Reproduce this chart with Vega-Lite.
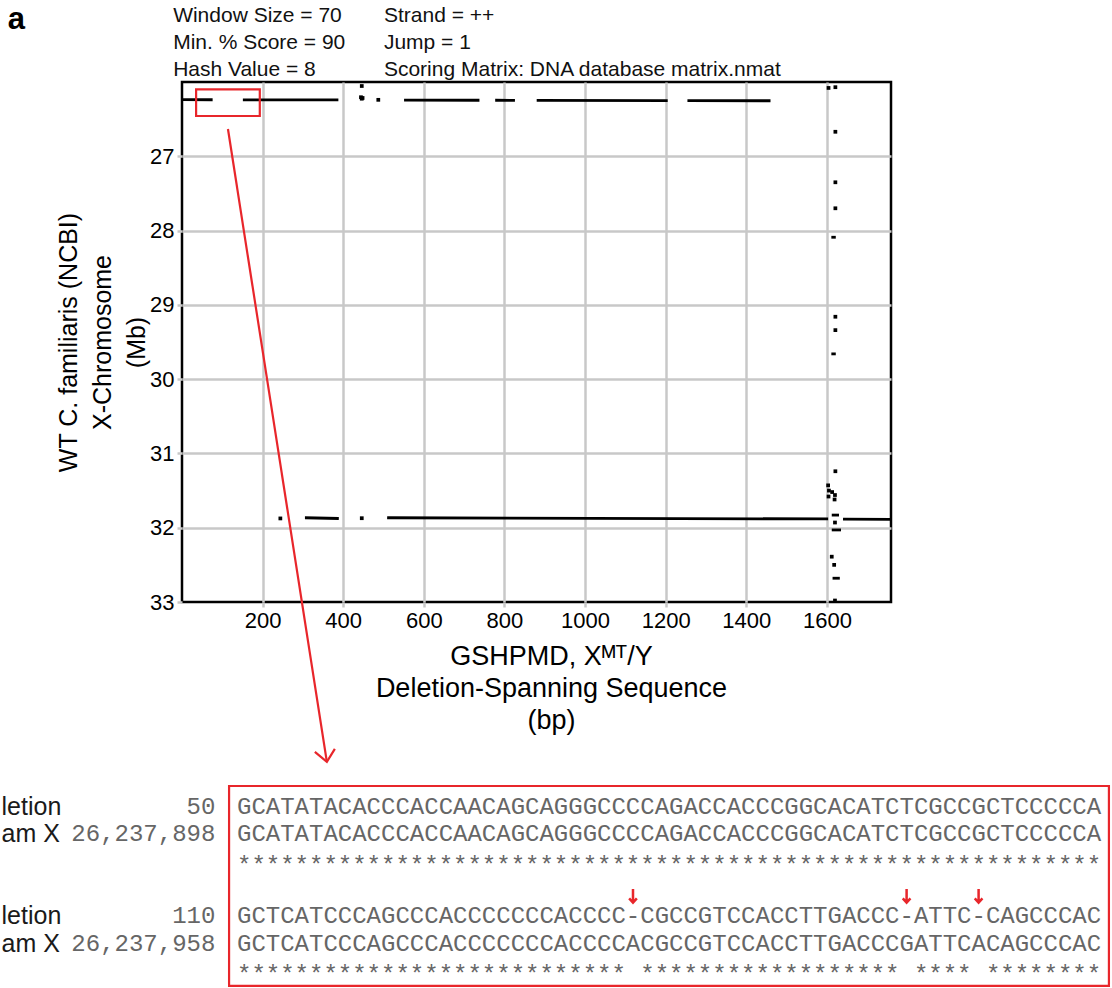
{
  "$schema": "https://vega.github.io/schema/vega-lite/v6.json",
  "background": "white",
  "padding": {"left": 1, "top": 4, "right": 0, "bottom": 3},
  "bounds": "flush",
  "spacing": 6,
  "config": {
    "view": {"stroke": null},
    "font": "Liberation Sans"
  },
  "resolve": {"scale": {"x": "independent", "y": "independent"}},
  "vconcat": [
    {
      "width": 709,
      "height": 54,
      "data": {"values": [
        {"line": 1, "left": "Window Size = 70", "right": "Strand = ++"},
        {"line": 2, "left": "Min. % Score = 90", "right": "Jump = 1"},
        {"line": 3, "left": "Hash Value = 8", "right": "Scoring Matrix: DNA database matrix.nmat"}
      ]},
      "layer": [
        {
          "mark": {"type": "text", "align": "left", "baseline": "alphabetic", "font": "Liberation Sans", "fontSize": 21, "color": "#111111"},
          "encoding": {
            "x": {"datum": -22, "type": "quantitative", "scale": {"domain": [0, 1759], "nice": false, "zero": false}, "axis": null},
            "y": {"field": "line", "type": "quantitative", "scale": {"domain": [1, 3], "reverse": true, "nice": false, "zero": false}, "axis": null},
            "text": {"field": "left"}
          }
        },
        {
          "mark": {"type": "text", "align": "left", "baseline": "alphabetic", "font": "Liberation Sans", "fontSize": 21, "color": "#111111"},
          "encoding": {
            "x": {"datum": 501, "type": "quantitative", "scale": {"domain": [0, 1759], "nice": false, "zero": false}, "axis": null},
            "y": {"field": "line", "type": "quantitative", "scale": {"domain": [1, 3], "reverse": true, "nice": false, "zero": false}, "axis": null},
            "text": {"field": "right"}
          }
        },
        {
          "data": {"values": [{"panel": "a"}]},
          "mark": {"type": "text", "align": "left", "baseline": "alphabetic", "font": "Liberation Sans", "fontSize": 31, "fontWeight": "bold", "color": "black"},
          "encoding": {
            "x": {"datum": -432, "type": "quantitative", "scale": {"domain": [0, 1759], "nice": false, "zero": false}, "axis": null},
            "y": {"datum": 1.26, "type": "quantitative", "scale": {"domain": [1, 3], "reverse": true, "nice": false, "zero": false}, "axis": null},
            "text": {"field": "panel"}
          }
        }
      ]
    },
    {
      "width": 709,
      "height": 520,
      "view": {"stroke": "black", "strokeWidth": 2.5},
      "layer": [
        {
          "data": {"values": [
            {"x1": 0, "x2": 76, "y1": 26.238, "y2": 26.2388},
            {"x1": 151, "x2": 388, "y1": 26.2395, "y2": 26.2419},
            {"x1": 551, "x2": 738, "y1": 26.2435, "y2": 26.2454},
            {"x1": 777, "x2": 826, "y1": 26.2458, "y2": 26.2463},
            {"x1": 880, "x2": 1205, "y1": 26.2468, "y2": 26.2501},
            {"x1": 1254, "x2": 1460, "y1": 26.2505, "y2": 26.2526},
            {"x1": 305, "x2": 389, "y1": 31.866, "y2": 31.876},
            {"x1": 509, "x2": 1603, "y1": 31.866, "y2": 31.882},
            {"x1": 1640, "x2": 1759, "y1": 31.885, "y2": 31.887},
            {"x1": 1611, "x2": 1622, "y1": 28.09, "y2": 28.09},
            {"x1": 1611, "x2": 1622, "y1": 29.66, "y2": 29.66},
            {"x1": 1612, "x2": 1630, "y1": 31.83, "y2": 31.83},
            {"x1": 1612, "x2": 1635, "y1": 32.03, "y2": 32.03},
            {"x1": 1614, "x2": 1632, "y1": 32.68, "y2": 32.68}
          ]},
          "mark": {"type": "rule", "color": "black", "strokeWidth": 2.8},
          "encoding": {
            "x": {
              "field": "x1", "type": "quantitative",
              "scale": {"domain": [0, 1759], "nice": false, "zero": false},
              "axis": {
                "values": [200, 400, 600, 800, 1000, 1200, 1400, 1600],
                "format": "d",
                "grid": true, "gridColor": "#c8c8c8", "gridWidth": 2.5,
                "domain": false,
                "ticks": true, "tickColor": "#c8c8c8", "tickWidth": 2.5, "tickSize": 5,
                "labelFont": "Liberation Sans", "labelFontSize": 22, "labelColor": "black", "labelPadding": 3,
                "title": ["GSHPMD, Xᴹᵀ/Y", "Deletion-Spanning Sequence", "(bp)"],
                "titleFont": "Liberation Sans", "titleFontSize": 27, "titleFontWeight": "normal", "titleColor": "black",
                "titlePadding": 12, "titleLineHeight": 32, "titleX": 369
              }
            },
            "x2": {"field": "x2"},
            "y": {
              "field": "y1", "type": "quantitative",
              "scale": {"domain": [26, 33], "reverse": true, "nice": false, "zero": false},
              "axis": {
                "values": [27, 28, 29, 30, 31, 32, 33],
                "format": "d",
                "grid": true, "gridColor": "#c8c8c8", "gridWidth": 2.5,
                "gridOpacity": {"condition": {"test": "datum.value >= 33", "value": 0}, "value": 1},
                "domain": false,
                "ticks": true, "tickColor": "#c8c8c8", "tickWidth": 2.5, "tickSize": 5,
                "labelFont": "Liberation Sans", "labelFontSize": 22, "labelColor": "black", "labelPadding": 3,
                "title": ["WT C. familiaris (NCBI)", "X-Chromosome", "(Mb)"],
                "titleFont": "Liberation Sans", "titleFontSize": 25, "titleFontWeight": "normal", "titleColor": "black",
                "titlePadding": 0, "titleLineHeight": 34
              }
            },
            "y2": {"field": "y2"}
          }
        },
        {
          "data": {"values": [
            {"bp": 446, "mb": 26.054},
            {"bp": 444, "mb": 26.205}, {"bp": 448, "mb": 26.215}, {"bp": 446, "mb": 26.225},
            {"bp": 487, "mb": 26.24},
            {"bp": 1604, "mb": 26.08}, {"bp": 1621, "mb": 26.07},
            {"bp": 1621, "mb": 26.67},
            {"bp": 1621, "mb": 27.35},
            {"bp": 1621, "mb": 27.7},
            {"bp": 1621, "mb": 29.16},
            {"bp": 1621, "mb": 29.34},
            {"bp": 1621, "mb": 31.24},
            {"bp": 1603, "mb": 31.43}, {"bp": 1605, "mb": 31.5}, {"bp": 1613, "mb": 31.52},
            {"bp": 1620, "mb": 31.56}, {"bp": 1604, "mb": 31.58}, {"bp": 1619, "mb": 31.62},
            {"bp": 1620, "mb": 31.93},
            {"bp": 1612, "mb": 32.39},
            {"bp": 1618, "mb": 32.5},
            {"bp": 1620, "mb": 32.98},
            {"bp": 244, "mb": 31.875},
            {"bp": 446, "mb": 31.872}
          ]},
          "mark": {"type": "square", "color": "black", "size": 14, "opacity": 1},
          "encoding": {
            "x": {"field": "bp", "type": "quantitative", "scale": {"domain": [0, 1759], "nice": false, "zero": false}},
            "y": {"field": "mb", "type": "quantitative", "scale": {"domain": [26, 33], "reverse": true, "nice": false, "zero": false}}
          }
        },
        {
          "data": {"values": [{"bp0": 35, "bp1": 193, "mb0": 26.098, "mb1": 26.458}]},
          "mark": {"type": "rect", "fill": null, "fillOpacity": 0, "stroke": "#e8262b", "strokeWidth": 2.2},
          "encoding": {
            "x": {"field": "bp0", "type": "quantitative", "scale": {"domain": [0, 1759], "nice": false, "zero": false}},
            "x2": {"field": "bp1"},
            "y": {"field": "mb0", "type": "quantitative", "scale": {"domain": [26, 33], "reverse": true, "nice": false, "zero": false}},
            "y2": {"field": "mb1"}
          }
        },
        {
          "data": {"values": [
            {"part": "shaft", "o": 0, "bp": 114, "mb": 26.633},
            {"part": "shaft", "o": 1, "bp": 359.4, "mb": 35.152},
            {"part": "head", "o": 0, "bp": 329.6, "mb": 35.017},
            {"part": "head", "o": 1, "bp": 359.4, "mb": 35.152},
            {"part": "head", "o": 2, "bp": 379.2, "mb": 34.977}
          ]},
          "mark": {"type": "line", "color": "#e8262b", "strokeWidth": 2.2, "strokeJoin": "miter"},
          "encoding": {
            "x": {"field": "bp", "type": "quantitative", "scale": {"domain": [0, 1759], "nice": false, "zero": false}},
            "y": {"field": "mb", "type": "quantitative", "scale": {"domain": [26, 33], "reverse": true, "nice": false, "zero": false}},
            "detail": {"field": "part"},
            "order": {"field": "o"}
          }
        }
      ]
    },
    {
      "width": 928,
      "height": 379,
      "layer": [
        {
          "data": {"values": [{"from": -0.05, "to": 61.05, "top": -0.769, "bottom": 6.55}]},
          "mark": {"type": "rect", "fill": null, "fillOpacity": 0, "stroke": "#e8262b", "strokeWidth": 2.2},
          "encoding": {
            "x": {"field": "from", "type": "quantitative", "scale": {"domain": [-3.319, 61.125], "nice": false, "zero": false}, "axis": null},
            "x2": {"field": "to"},
            "y": {"field": "top", "type": "quantitative", "scale": {"domain": [-7.289, 6.593], "reverse": true, "nice": false, "zero": false}, "axis": null},
            "y2": {"field": "bottom"}
          }
        },
        {
          "data": {"values": [
            {"row": 0, "kind": "seq", "label": "letion", "pos": "50", "seq": "GCATATACACCCACCAACAGCAGGGCCCCAGACCACCCGGCACATCTCGCCGCTCCCCCA"},
            {"row": 1, "kind": "seq", "label": "am X", "pos": "26,237,898", "seq": "GCATATACACCCACCAACAGCAGGGCCCCAGACCACCCGGCACATCTCGCCGCTCCCCCA"},
            {"row": 2, "kind": "match", "label": "", "pos": "", "seq": "************************************************************"},
            {"row": 4, "kind": "seq", "label": "letion", "pos": "110", "seq": "GCTCATCCCAGCCCACCCCCCCACCCC-CGCCGTCCACCTTGACCC-ATTC-CAGCCCAC"},
            {"row": 5, "kind": "seq", "label": "am X", "pos": "26,237,958", "seq": "GCTCATCCCAGCCCACCCCCCCACCCCACGCCGTCCACCTTGACCCGATTCACAGCCCAC"},
            {"row": 6, "kind": "match", "label": "", "pos": "", "seq": "*************************** ****************** **** ********"}
          ]},
          "layer": [
            {
              "transform": [{"filter": "datum.kind === 'seq'"}],
              "mark": {"type": "text", "align": "left", "baseline": "middle", "font": "Liberation Sans", "fontSize": 25, "color": "#1a1a1a"},
              "encoding": {
                "x": {"datum": -15.85, "type": "quantitative", "scale": {"domain": [-3.319, 61.125], "nice": false, "zero": false}, "axis": null},
                "y": {"field": "row", "type": "quantitative", "scale": {"domain": [-7.289, 6.593], "reverse": true, "nice": false, "zero": false}, "axis": null},
                "text": {"field": "label"}
              }
            },
            {
              "transform": [{"filter": "datum.kind === 'seq'"}],
              "mark": {"type": "text", "align": "right", "baseline": "middle", "font": "Liberation Mono", "fontSize": 24, "color": "#666666"},
              "encoding": {
                "x": {"datum": -1, "type": "quantitative", "scale": {"domain": [-3.319, 61.125], "nice": false, "zero": false}, "axis": null},
                "y": {"field": "row", "type": "quantitative", "scale": {"domain": [-7.289, 6.593], "reverse": true, "nice": false, "zero": false}, "axis": null},
                "text": {"field": "pos"}
              }
            },
            {
              "transform": [{"filter": "datum.kind === 'seq'"}],
              "mark": {"type": "text", "align": "left", "baseline": "middle", "font": "Liberation Mono", "fontSize": 24, "color": "#666666"},
              "encoding": {
                "x": {"datum": 0.5, "type": "quantitative", "scale": {"domain": [-3.319, 61.125], "nice": false, "zero": false}, "axis": null},
                "y": {"field": "row", "type": "quantitative", "scale": {"domain": [-7.289, 6.593], "reverse": true, "nice": false, "zero": false}, "axis": null},
                "text": {"field": "seq"}
              }
            },
            {
              "transform": [{"filter": "datum.kind === 'match'"}],
              "mark": {"type": "text", "align": "left", "baseline": "middle", "font": "Liberation Mono", "fontSize": 24, "color": "#666666", "dy": 4},
              "encoding": {
                "x": {"datum": 0.5, "type": "quantitative", "scale": {"domain": [-3.319, 61.125], "nice": false, "zero": false}, "axis": null},
                "y": {"field": "row", "type": "quantitative", "scale": {"domain": [-7.289, 6.593], "reverse": true, "nice": false, "zero": false}, "axis": null},
                "text": {"field": "seq"}
              }
            }
          ]
        },
        {
          "data": {"values": [{"gap": 28}, {"gap": 47}, {"gap": 52}]},
          "mark": {"type": "point", "shape": "M0,-1L0,0.95M-0.55,0.35L0,0.95L0.55,0.35", "filled": false, "stroke": "#e8262b", "strokeWidth": 2.5, "size": 196, "opacity": 1},
          "encoding": {
            "x": {"field": "gap", "type": "quantitative", "scale": {"domain": [-3.319, 61.125], "nice": false, "zero": false}, "axis": null},
            "y": {"datum": 3.26, "type": "quantitative", "scale": {"domain": [-7.289, 6.593], "reverse": true, "nice": false, "zero": false}, "axis": null}
          }
        }
      ]
    }
  ]
}
